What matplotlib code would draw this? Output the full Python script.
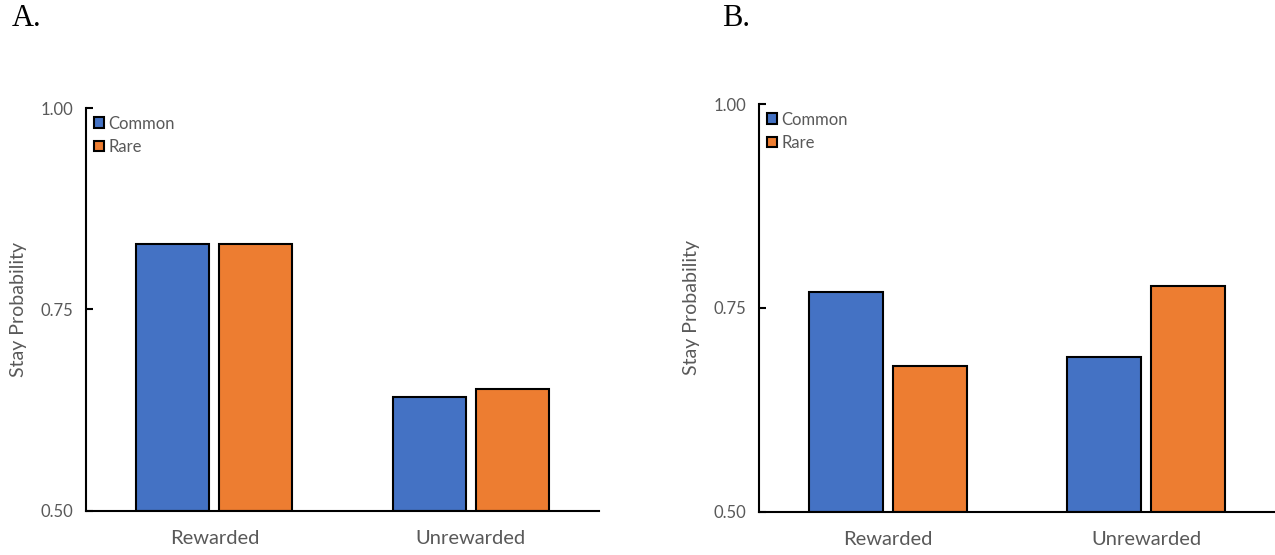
import numpy as np
import matplotlib
matplotlib.use('Agg')
import matplotlib.pyplot as plt

# stay probabilities
CATEGORIES = ["Rewarded", "Unrewarded"]
TRANSITIONS = ["Common", "Rare"]
PANEL_A_COMMON = [0.831, 0.641]
PANEL_A_RARE = [0.831, 0.651]
PANEL_B_COMMON = [0.770, 0.690]
PANEL_B_RARE = [0.679, 0.777]
Y_TICKS = [0.50, 0.75, 1.00]
PANEL_LABELS = ["A.", "B."]

BLUE = "#4472C4"
ORANGE = "#ED7D31"
GRAY = "#595959"

plt.rcParams['font.family'] = ['Lato', 'DejaVu Sans']


def draw_panel(ax, common, rare):
    x = np.arange(len(CATEGORIES)) + 0.5
    w = 0.285
    off = 0.162
    b1 = ax.bar(x - off, np.array(common) - 0.5, w, bottom=0.5, color=BLUE,
                edgecolor="black", linewidth=1.5, label=TRANSITIONS[0])
    b2 = ax.bar(x + off, np.array(rare) - 0.5, w, bottom=0.5, color=ORANGE,
                edgecolor="black", linewidth=1.5, label=TRANSITIONS[1])
    ax.set_xlim(0, 2)
    ax.set_ylim(0.5, 1.0)
    ax.set_xticks(x)
    ax.set_xticklabels(CATEGORIES, fontsize=14.5, color=GRAY)
    ax.set_yticks(Y_TICKS)
    ax.set_yticklabels([f"{t:.2f}" for t in Y_TICKS], fontsize=12, color=GRAY)
    ax.tick_params(axis="x", length=0, pad=14)
    ax.tick_params(axis="y", direction="in", length=5, width=1.5, pad=9)
    for s in ["top", "right"]:
        ax.spines[s].set_visible(False)
    for s in ["left", "bottom"]:
        ax.spines[s].set_linewidth(1.5)
    ax.set_ylabel("Stay Probability", fontsize=14, color=GRAY, labelpad=10)
    ax.legend(handles=[b1, b2], loc="upper left", frameon=False,
              handlelength=0.6, handleheight=0.6, handletextpad=0.3,
              labelspacing=0.45, borderaxespad=0.3, borderpad=0.15,
              fontsize=12, labelcolor=GRAY)


fig = plt.figure(figsize=(12.75, 5.55), dpi=100)
ax_a = fig.add_axes([0.0675, 0.0793, 0.4024, 0.7261])
ax_b = fig.add_axes([0.5953, 0.0775, 0.4047, 0.7351])

draw_panel(ax_a, PANEL_A_COMMON, PANEL_A_RARE)
draw_panel(ax_b, PANEL_B_COMMON, PANEL_B_RARE)

fig.text(0.009, 0.966, PANEL_LABELS[0], fontsize=22, family="Liberation Serif", va="center")
fig.text(0.566, 0.966, PANEL_LABELS[1], fontsize=22, family="Liberation Serif", va="center")

fig.savefig("out.png", dpi=100)
